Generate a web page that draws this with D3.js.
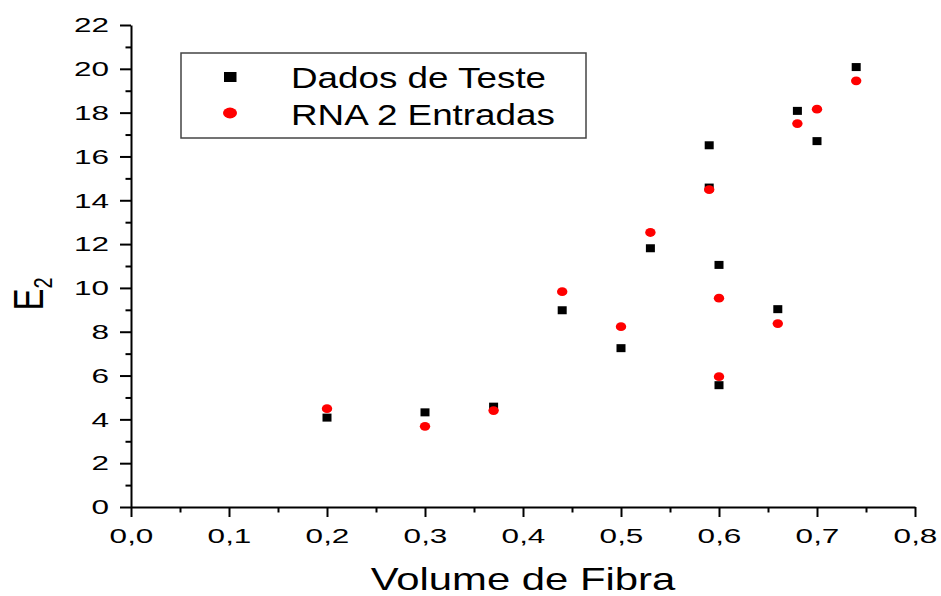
<!DOCTYPE html>
<html>
<head>
<meta charset="utf-8">
<script src="https://cdn.jsdelivr.net/npm/d3@7"></script>
<style>
  body { margin: 0; background: #fff; }
  svg { display: block; font-family: 'Liberation Sans', Arial, sans-serif; }
</style>
</head>
<body>
<div id="chart"></div>
<script>
// Volume de Fibra (x) for each sample
const testX = [0.20, 0.30, 0.37, 0.44, 0.50, 0.53, 0.59, 0.59, 0.60, 0.60, 0.66, 0.68, 0.70, 0.74]
const testY = [4.08, 4.32, 4.58, 8.98, 7.25, 11.81, 16.51, 14.58, 11.05, 5.56, 9.03, 18.08, 16.70, 20.08]
const rnaX = [0.20, 0.30, 0.37, 0.44, 0.50, 0.53, 0.59, 0.60, 0.60, 0.66, 0.68, 0.70, 0.74]
const rnaY = [4.49, 3.68, 4.40, 9.83, 8.23, 12.53, 14.49, 9.53, 5.95, 8.37, 17.50, 18.16, 19.45]

const xTicks = [0, 0.1, 0.2, 0.3, 0.4, 0.5, 0.6, 0.7, 0.8]
const xMinor = d3.range(0.05, 0.8, 0.1)
const yTicks = d3.range(0, 23, 2)
const yMinor = d3.range(1, 22, 2)
const legendLabels = ['Dados de Teste', 'RNA 2 Entradas']

const width = 941, height = 596
const margin = { top: 25, right: 26, bottom: 89, left: 131 }

const svg = d3.select('#chart').append('svg')
    .attr('width', width).attr('height', height)

const x = d3.scaleLinear().domain([0, 0.8]).range([margin.left, width - margin.right])
const y = d3.scaleLinear().domain([0, 22]).range([height - margin.bottom, margin.top])

// the reference is stretched horizontally, so text gets a scaleX
const tickSx = 1.5

// minor ticks first
svg.append('g')
    .attr('transform', `translate(0,${y(0)})`)
    .call(d3.axisBottom(x).tickValues(xMinor).tickSize(5.5).tickFormat(''))
    .call(g => g.select('.domain').remove())
svg.append('g')
    .attr('transform', `translate(${x(0)},0)`)
    .call(d3.axisLeft(y).tickValues(yMinor).tickSize(5.5).tickFormat(''))
    .call(g => g.select('.domain').remove())

const xAxis = svg.append('g')
    .attr('transform', `translate(0,${y(0)})`)
    .call(d3.axisBottom(x).tickValues(xTicks).tickSize(10).tickPadding(11).tickSizeOuter(0)
        .tickFormat(d => d3.format('.1f')(d).replace('.', ',')))
xAxis.selectAll('text')
    .attr('font-size', '21px').attr('fill', '#000')
    .attr('font-family', "'Liberation Sans', Arial, sans-serif")
    .attr('transform', `scale(${tickSx},1)`)

const yAxis = svg.append('g')
    .attr('transform', `translate(${x(0)},0)`)
    .call(d3.axisLeft(y).tickValues(yTicks).tickSize(11).tickPadding(11).tickSizeOuter(0))
yAxis.selectAll('text')
    .attr('font-size', '21px').attr('fill', '#000')
    .attr('font-family', "'Liberation Sans', Arial, sans-serif")
    .attr('x', -22 / tickSx)
    .attr('transform', `scale(${tickSx},1)`)

svg.selectAll('.domain').attr('stroke', '#000').attr('stroke-width', 2)
svg.selectAll('.tick line').attr('stroke', '#000').attr('stroke-width', 2)

// axis titles
svg.append('text')
    .attr('transform', `translate(${(x(0) + x(0.8)) / 2},${height - 6}) scale(1.35,1)`)
    .attr('text-anchor', 'middle')
    .attr('font-size', '31px')
    .text('Volume de Fibra')

const yTitle = svg.append('text')
    .attr('transform', `translate(43,294) scale(1.3,1) rotate(-90)`)
    .attr('text-anchor', 'middle')
    .attr('font-size', '33px')
yTitle.append('tspan').text('E')
yTitle.append('tspan').attr('font-size', '20px').attr('dy', '7').text('2')

// data points
svg.selectAll('.test')
    .data(testX.map((v, i) => [v, testY[i]])).enter()
    .append('rect')
    .attr('x', d => x(d[0]) - 4.5).attr('y', d => y(d[1]) - 4)
    .attr('width', 9).attr('height', 8)
    .attr('fill', '#000')

svg.selectAll('.rna')
    .data(rnaX.map((v, i) => [v, rnaY[i]])).enter()
    .append('ellipse')
    .attr('cx', d => x(d[0])).attr('cy', d => y(d[1]))
    .attr('rx', 5.2).attr('ry', 4.4)
    .attr('fill', '#ff0000')

// legend
const lg = svg.append('g')
lg.append('rect')
    .attr('x', 181).attr('y', 53).attr('width', 405).attr('height', 85)
    .attr('fill', '#fff').attr('stroke', '#444').attr('stroke-width', 1.5)
lg.append('rect')
    .attr('x', 224).attr('y', 72).attr('width', 12.5).attr('height', 10)
    .attr('fill', '#000')
lg.append('ellipse')
    .attr('cx', 230).attr('cy', 113).attr('rx', 7).attr('ry', 5.4)
    .attr('fill', '#ff0000')
lg.selectAll('.lt')
    .data(legendLabels).enter()
    .append('text')
    .attr('transform', (d, i) => `translate(291,${88 + i * 36.5}) scale(1.27,1)`)
    .attr('font-size', '29px')
    .attr('fill', '#000')
    .text(d => d)
</script>
</body>
</html>
